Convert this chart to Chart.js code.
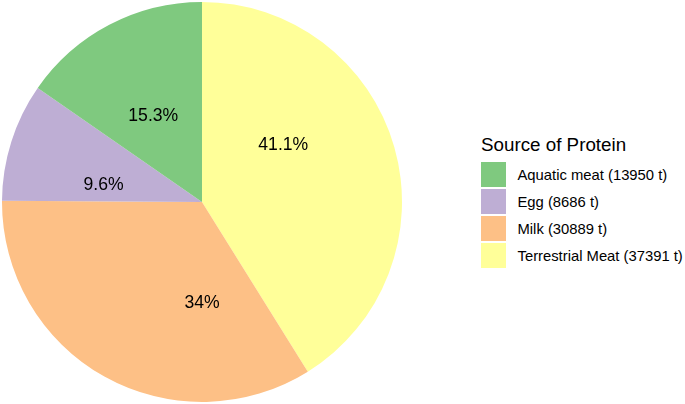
<!doctype html>
<html lang="en">
<head>
<meta charset="UTF-8" />
<title>Source of Protein</title>
<script src="https://cdn.jsdelivr.net/npm/chart.js"></script>
<style>
  html, body { margin: 0; padding: 0; background: #fff; }
  body { width: 685px; height: 404px; position: relative; overflow: hidden;
         font-family: "Liberation Sans", Arial, sans-serif; color: #000; }
  #pieWrap { position: absolute; left: 0; top: 0; width: 404px; height: 404px; }
  #legend { position: absolute; left: 481px; top: 135px; }
  #legend .title { font-size: 18.8px; line-height: 19px; height: 27px; }
  #legend .row { display: flex; align-items: center; height: 25px; margin-bottom: 2px; }
  #legend .key { width: 25px; height: 25px; margin-right: 11.5px; }
  #legend .lab { font-size: 14.8px; line-height: 16px; }
</style>
</head>
<body>
<div id="pieWrap"><canvas id="pie" width="404" height="404"></canvas></div>
<div id="legend"></div>

<script>
// legend order (top to bottom)
const categories = ['Aquatic meat', 'Egg', 'Milk', 'Terrestrial Meat'];
const tonnes = [13950, 8686, 30889, 37391];
const colors = ['#7FC97F', '#BEAED4', '#FDC086', '#FFFF99'];
// where each percent label sits along the circle, as a share of a full turn from 12 o'clock
const labelTurn = [0.919, 0.778, 0.5, 0.151];

const total = tonnes.reduce((a, b) => a + b, 0);
const pctText = (v) => parseFloat((v / total * 100).toFixed(1)) + '%';

// pie is drawn clockwise from the top starting with the last category
const order = categories.map((_, i) => i).reverse();

// legend
const legendEl = document.getElementById('legend');
legendEl.innerHTML = '<div class="title">Source of Protein</div>' +
  categories.map((c, i) =>
    `<div class="row"><div class="key" style="background:${colors[i]}"></div>` +
    `<div class="lab">${c} (${tonnes[i]} t)</div></div>`).join('');

const pctLabels = {
  id: 'pctLabels',
  afterDatasetsDraw(chart) {
    const ctx = chart.ctx;
    const arcs = chart.getDatasetMeta(0).data;
    ctx.save();
    ctx.font = '17.6px "Liberation Sans", Arial, sans-serif';
    ctx.fillStyle = '#000';
    ctx.textAlign = 'center';
    ctx.textBaseline = 'middle';
    arcs.forEach((arc, j) => {
      const i = order[j];
      const { x, y, outerRadius } = arc.getProps(['x', 'y', 'outerRadius'], true);
      const a = -Math.PI / 2 + labelTurn[i] * 2 * Math.PI;
      const r = outerRadius / 2;
      ctx.fillText(pctText(tonnes[i]), x + r * Math.cos(a), y + r * Math.sin(a) + 1);
    });
    ctx.restore();
  }
};

new Chart(document.getElementById('pie'), {
  type: 'pie',
  data: {
    labels: order.map((i) => categories[i]),
    datasets: [{
      data: order.map((i) => tonnes[i]),
      backgroundColor: order.map((i) => colors[i]),
      borderWidth: 0
    }]
  },
  options: {
    responsive: false,
    animation: false,
    layout: { padding: 2 },
    plugins: { legend: { display: false }, tooltip: { enabled: false } }
  },
  plugins: [pctLabels]
});
</script>
</body>
</html>
